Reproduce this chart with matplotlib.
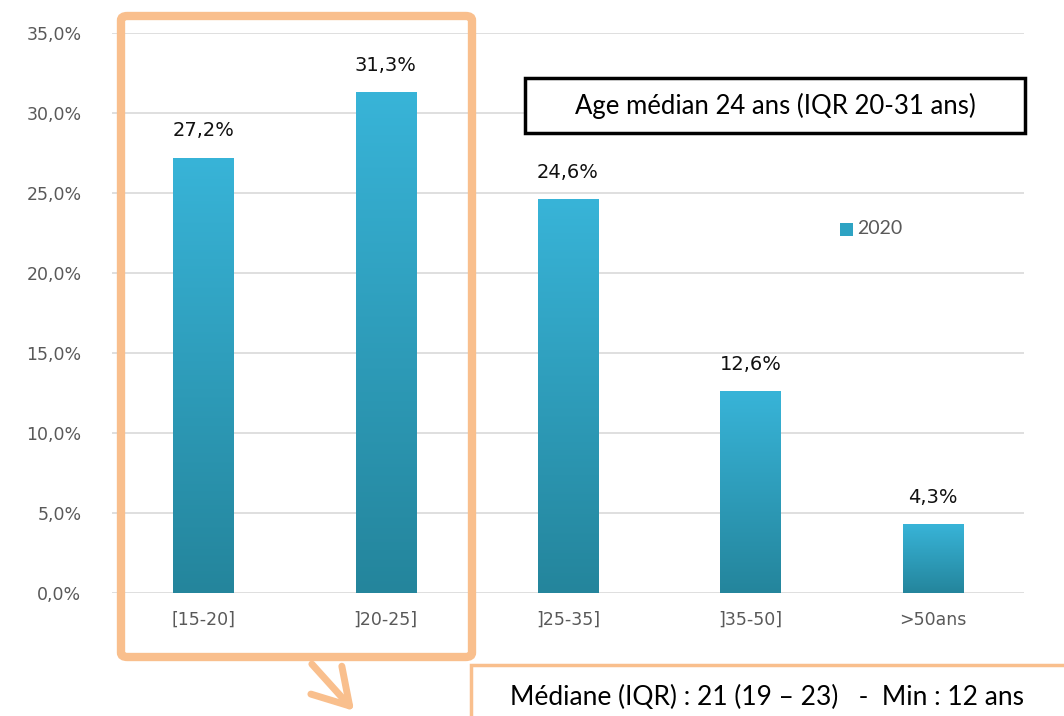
import matplotlib
matplotlib.use("Agg")
import matplotlib.pyplot as plt  # noqa: E402
import numpy as np  # noqa: E402
from matplotlib.colors import LinearSegmentedColormap  # noqa: E402
from matplotlib.patches import FancyBboxPatch, Rectangle, FancyArrowPatch  # noqa: E402

categories = ["[15-20]", "]20-25]", "]25-35]", "]35-50]", ">50ans"]
values = [27.2, 31.3, 24.6, 12.6, 4.3]
value_labels = ["27,2%", "31,3%", "24,6%", "12,6%", "4,3%"]
y_ticks = [0, 5, 10, 15, 20, 25, 30, 35]
series_name = "2020"
box_text = "Age médian 24 ans (IQR 20-31 ans)"
note_text = "Médiane (IQR) : 21 (19 – 23)   -  Min : 12 ans"

plt.rcParams["font.family"] = ["DejaVu Sans"]

W, H = 1064, 716
fig = plt.figure(figsize=(W / 100, H / 100), dpi=100)
ax = fig.add_axes([112 / W, 1 - 593 / H, 912 / W, 560 / H])

top_col = "#38b4d8"
bot_col = "#24859c"
cmap = LinearSegmentedColormap.from_list("bar", [bot_col, top_col])
grad = np.linspace(0, 1, 256).reshape(-1, 1)

x = np.arange(len(categories))
bars = ax.bar(x, values, width=0.33, color=top_col, zorder=2)
for b in bars:
    bx, by = b.get_x(), b.get_y()
    bw, bh = b.get_width(), b.get_height()
    im = ax.imshow(grad, cmap=cmap, origin="lower", aspect="auto",
                   extent=[bx, bx + bw, by, by + bh], zorder=3)
    im.set_clip_path(b)
    b.set_edgecolor("#5ec3df")
    b.set_linewidth(0.6)

for xi, v, lab in zip(x, values, value_labels):
    ax.text(xi, v + 1.1, lab, ha="center", va="bottom", fontsize=14, color="#111111")

ax.set_xlim(-0.5, len(categories) - 0.5)
ax.set_ylim(0, 35)
ax.set_yticks(y_ticks)
ax.set_yticklabels([f"{t:.1f}".replace(".", ",") + "%" for t in y_ticks])
ax.set_xticks(x)
ax.set_xticklabels(categories)
ax.tick_params(axis="both", length=0, labelsize=12.5, colors="#595959")
ax.tick_params(axis="y", pad=22)
ax.tick_params(axis="x", pad=13)
ax.grid(axis="y", color="#d9d9d9", linewidth=1.2, zorder=0)
for s in ax.spines.values():
    s.set_visible(False)

# legend
fig.patches.append(Rectangle((840 / W, 1 - 236 / H), 13 / W, 13 / H,
                             transform=fig.transFigure, facecolor="#2ea3c3",
                             edgecolor="none"))
fig.text(857 / W, 1 - 229 / H, series_name, fontsize=14, color="#595959", va="center",
         family="Lato")

# black info box
fig.patches.append(Rectangle((525 / W, 1 - 133 / H), 500 / W, 55 / H,
                             transform=fig.transFigure, facecolor="white",
                             edgecolor="black", linewidth=2.5, zorder=5))
fig.text(775 / W, 1 - 106 / H, box_text, ha="center", va="center",
         fontsize=18.5, color="black", zorder=6, family="Lato")

# orange highlight box
orange = "#f9bf8d"
fig.patches.append(FancyBboxPatch((121 / W, 1 - 657 / H), 351 / W, 641 / H,
                                  boxstyle="round,pad=0,rounding_size=0.006",
                                  transform=fig.transFigure, facecolor="none",
                                  edgecolor=orange, linewidth=6, zorder=4))
fig.patches.append(FancyArrowPatch((310 / W, 1 - 662 / H), (356 / W, 1 - 713 / H),
                                   transform=fig.transFigure,
                                   arrowstyle="->,head_length=10,head_width=6",
                                   color=orange, linewidth=5, mutation_scale=2.5, zorder=4))

# bottom note box
fig.patches.append(Rectangle((471 / W, 1 - 740 / H), 620 / W, 75 / H,
                             transform=fig.transFigure, facecolor="white",
                             edgecolor=orange, linewidth=2.5, zorder=4))
fig.text(510 / W, 1 - 697 / H, note_text, ha="left", va="center",
         fontsize=19, color="black", zorder=6, family="Lato")

fig.savefig("out.png", dpi=100)
